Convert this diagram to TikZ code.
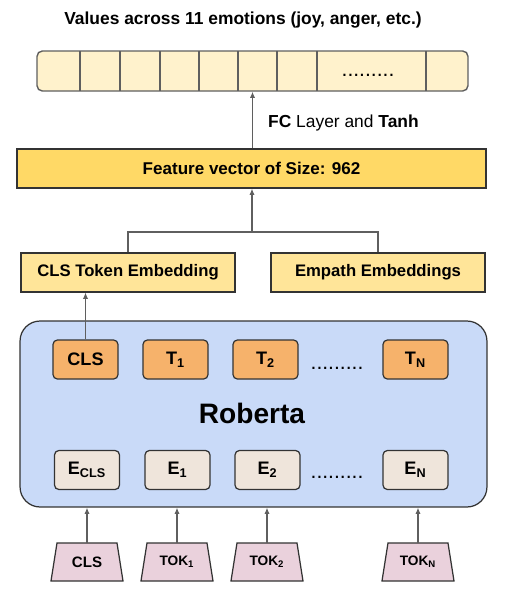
\documentclass[tikz,border=0pt]{standalone}
\usepackage{fontspec}
\setmainfont{Liberation Sans}
\usepackage{xcolor}
\usetikzlibrary{arrows.meta, positioning, shapes.geometric}

\definecolor{cellfill}{HTML}{FFF2CC}
\definecolor{featfill}{HTML}{FFD966}
\definecolor{embfill}{HTML}{FFE599}
\definecolor{robfill}{HTML}{C9DAF8}
\definecolor{tokfill}{HTML}{F6B26B}
\definecolor{inpfill}{HTML}{EFE5DB}
\definecolor{trapfill}{HTML}{EAD1DC}
\definecolor{edge}{HTML}{333333}
\definecolor{wire}{HTML}{5F5F5F}

\begin{document}
\begin{tikzpicture}[
    x=0.02cm, y=-0.02cm,
    >={Latex[length=3.5pt,width=3pt]},
    font=\fontsize{8.5}{10}\selectfont\bfseries,
    wire style/.style={draw=wire, line width=0.8pt},
    box style/.style={draw=edge, line width=0.7pt, inner sep=0pt},
    bar style/.style={box style, fill=featfill, minimum width=9.38cm, minimum height=0.78cm,
        font=\fontsize{9.7}{11}\selectfont\bfseries},
    emb style/.style={box style, fill=embfill, minimum width=4.28cm, minimum height=0.78cm,
        font=\fontsize{9.5}{11}\selectfont\bfseries},
    tok style/.style={box style, fill=tokfill, rounded corners=2.5pt,
        minimum width=1.3cm, minimum height=0.78cm, font=\fontsize{10.3}{12}\selectfont\bfseries},
    inp style/.style={tok style, fill=inpfill},
    trap style/.style={draw=edge, line width=0.7pt, fill=trapfill},
    trap text/.style={inner sep=0pt, minimum width=1.2cm, minimum height=0.76cm,
        font=\fontsize{7.8}{9}\selectfont\bfseries},
    dots style/.style={font=\fontsize{12}{14}\selectfont\mdseries}
]

    % Bounding box
    \useasboundingbox (0,0) rectangle (508,600);

    % --- OUTPUT ---
    \node[font=\fontsize{9.9}{11}\selectfont\bfseries] (title) at (243,20) {Values across 11 emotions (joy, anger, etc.)};
    \node[box style, draw=wire, line width=0.8pt, fill=cellfill, rounded corners=3pt,
        minimum width=8.62cm, minimum height=0.8cm] (outbar) at (252.5,71) {};
    \foreach \x in {80,120,160,199,238,277,317,426}
        \draw[draw=wire, line width=0.8pt] (\x,51) -- (\x,91);
    \node[dots style] (outdots) at (368,75) {.........};

    % Feature vector
    \node[bar style] (feat) at (251.5,168.5) {Feature vector of Size: 962};
    \draw[wire style, ->] (feat.north -| outbar.south) -- (outbar.south);
    \node[anchor=west, font=\fontsize{9.9}{11}\selectfont] (fclabel) at (262,123)
        {\textbf{FC} \mdseries Layer and \bfseries Tanh};

    % Embeddings
    \node[emb style] (clsemb) at (128,272.5) {CLS Token Embedding};
    \node[emb style] (empemb) at (378,272.5) {Empath Embeddings};
    \coordinate (join) at (252,232);
    \draw[wire style, ->] (join) -- (join |- feat.south);
    \draw[wire style] (clsemb.north) |- (join) -| (empemb.north);

    % --- ROBERTA ---
    \node[box style, fill=robfill, rounded corners=0.4cm,
        minimum width=9.34cm, minimum height=3.72cm] (roberta) at (253.5,414) {};
    \node[font=\fontsize{16}{19}\selectfont\bfseries] (roblabel) at (252,413) {Roberta};

    % Output tokens
    \node[tok style] (tcls) at (85.5,359.5) {CLS};
    \node[tok style] (t1) at (175.5,359.5) {T\textsubscript{1}};
    \node[tok style] (t2) at (265.5,359.5) {T\textsubscript{2}};
    \node[tok style] (tn) at (415.5,359.5) {T\textsubscript{N}};
    \node[dots style] (tdots) at (337,368) {.........};
    \draw[wire style, line width=0.6pt, ->] (tcls.north) -- (tcls.north |- clsemb.south);

    % Input embeddings
    \node[inp style] (ecls) at (87,470) {E\textsubscript{CLS}};
    \node[inp style] (e1) at (177.5,470) {E\textsubscript{1}};
    \node[inp style] (e2) at (267.5,470) {E\textsubscript{2}};
    \node[inp style] (en) at (415.5,470) {E\textsubscript{N}};
    \node[dots style] (edots) at (337,477) {.........};

    % --- INPUT TOKENS ---
    \foreach \n/\x/\lbl in {icls/87/{\fontsize{8.6}{10}\selectfont CLS}, i1/177/TOK\textsubscript{1},
                            i2/267/TOK\textsubscript{2}, in/418/TOK\textsubscript{N}} {
        \draw[trap style] (\x-36,581) -- (\x-30,543) -- (\x+30,543) -- (\x+36,581) -- cycle;
        \node[trap text] (\n) at (\x,562) {\lbl};
        \draw[wire style, ->] (\n.north) -- (\n.north |- roberta.south);
    }

\end{tikzpicture}
\end{document}
